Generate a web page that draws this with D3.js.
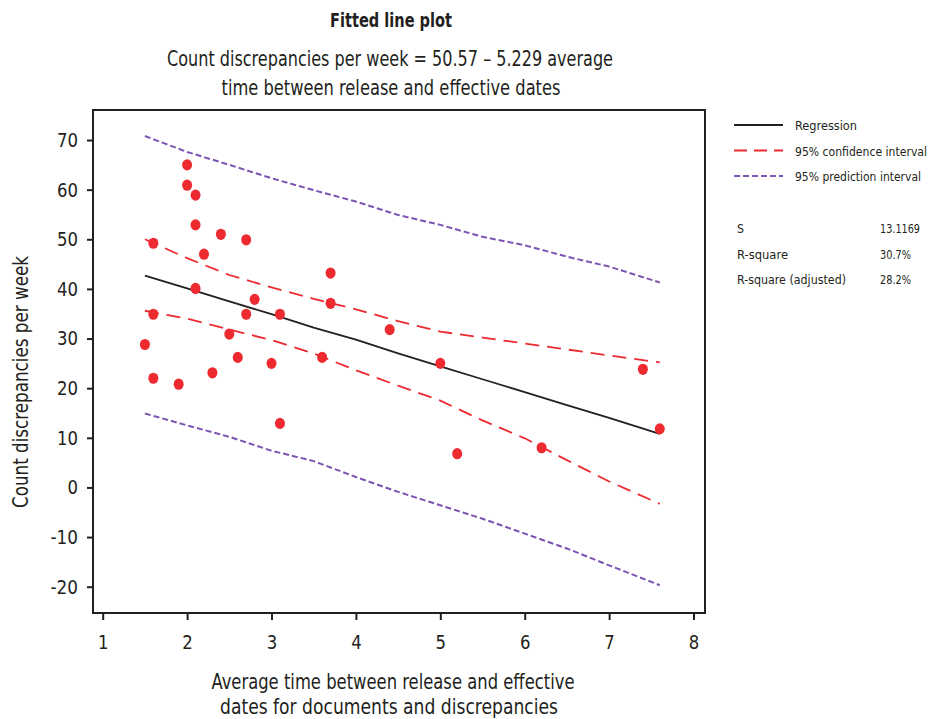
<!DOCTYPE html>
<html>
<head>
<meta charset="utf-8">
<title>Fitted line plot</title>
<style>
  body { margin: 0; background: #fff; }
  svg { display: block; }
  text { font-family: "DejaVu Sans Condensed", "Liberation Sans Narrow", sans-serif; fill: #231f20; }
  .axis path, .axis line { stroke: #231f20; stroke-width: 2px; }
  .axis text { font-size: 20px; }
</style>
</head>
<body>
<svg></svg>
<script src="https://d3js.org/d3.v7.min.js"></script>
<script>
// observations (average time, count discrepancies)
const obsX = [2.0, 2.0, 2.1, 2.1, 2.4, 2.7, 1.6, 2.2, 3.7, 2.1, 2.8, 3.7, 1.6, 2.7, 3.1,
              4.4, 2.5, 1.5, 1.6, 1.9, 2.3, 2.6, 3.0, 3.6, 3.1, 5.0, 7.4, 7.6, 5.2, 6.2];
const obsY = [65.0, 60.9, 58.9, 52.9, 51.0, 49.9, 49.2, 47.0, 43.2, 40.1, 37.9, 37.1, 34.9, 34.9, 34.9,
              31.8, 30.9, 28.8, 22.0, 20.8, 23.1, 26.2, 25.0, 26.2, 12.9, 25.0, 23.8, 11.8, 6.8, 8.0];

// fitted curves
const fitX    = [1.5, 2, 2.5, 3, 3.5, 4, 4.5, 5, 5.5, 6, 6.5, 7, 7.6];
const regY    = [42.7, 40.1, 37.5, 34.9, 32.2, 29.8, 27.0, 24.4, 21.8, 19.2, 16.6, 14.0, 10.8];
const ciUpper = [50.0, 46.2, 42.8, 40.3, 38.0, 35.9, 33.5, 31.4, 30.2, 29.0, 27.8, 26.6, 25.2];
const ciLower = [35.6, 34.0, 31.8, 29.7, 27.0, 23.6, 20.5, 17.5, 13.5, 9.9, 5.5, 1.2, -3.3];
const piUpper = [70.8, 67.6, 65.0, 62.3, 59.9, 57.6, 54.9, 52.9, 50.5, 48.8, 46.5, 44.5, 41.3];
const piLower = [14.9, 12.5, 10.2, 7.4, 5.3, 2.1, -0.9, -3.6, -6.3, -9.3, -12.3, -15.7, -19.7];

const xTicks = [1, 2, 3, 4, 5, 6, 7, 8];
const yTicks = [70, 60, 50, 40, 30, 20, 10, 0, -10, -20];

const legendItems = ["Regression", "95% confidence interval", "95% prediction interval"];
const statNames = ["S", "R-square", "R-square (adjusted)"];
const statValues = ["13.1169", "30.7%", "28.2%"];

const W = 938, H = 719;
const svg = d3.select("svg").attr("width", W).attr("height", H);

const plotL = 93, plotR = 705, plotT = 110, plotB = 613;
const x = d3.scaleLinear().domain([0.885, 8.136]).range([plotL, plotR]);
const y = d3.scaleLinear().domain([-25.3, 76.05]).range([plotB, plotT]);

// squeeze a text to the condensed width of the original
function fit(sel, len) {
  sel.attr("textLength", len).attr("lengthAdjust", "spacingAndGlyphs");
}
const labelLen = s => s.replace(/-/g, "").length * 10.5 + (s.includes("-") ? 6.5 : 0);

// frame
svg.append("rect")
  .attr("x", plotL).attr("y", plotT)
  .attr("width", plotR - plotL).attr("height", plotB - plotT)
  .attr("fill", "none").attr("stroke", "#231f20").attr("stroke-width", 2);

const xAxis = svg.append("g").attr("class", "axis")
  .attr("transform", `translate(0,${plotB})`)
  .call(d3.axisBottom(x).tickValues(xTicks).tickSize(7).tickPadding(15).tickFormat(d => String(d)));
xAxis.select(".domain").remove();
xAxis.selectAll("text").each(function(d) { fit(d3.select(this), labelLen(String(d))); });

const yAxis = svg.append("g").attr("class", "axis")
  .attr("transform", `translate(${plotL},0)`)
  .call(d3.axisLeft(y).tickValues(yTicks).tickSize(6).tickPadding(9).tickFormat(d => String(d)));
yAxis.select(".domain").remove();
yAxis.selectAll("text").each(function(d) { fit(d3.select(this), labelLen(String(d))); });

const line = d3.line().x((d, i) => x(fitX[i])).y(d => y(d));

const curves = [
  { vals: piUpper, color: "#7c55b3", dash: "6,3", w: 2 },
  { vals: piLower, color: "#7c55b3", dash: "6,3", w: 2 },
  { vals: ciUpper, color: "#ec2a30", dash: "14,8", w: 1.8 },
  { vals: ciLower, color: "#ec2a30", dash: "14,8", w: 1.8 },
  { vals: regY, color: "#231f20", dash: null, w: 1.8 }
];
curves.forEach(c => {
  svg.append("path")
    .attr("d", line(c.vals))
    .attr("fill", "none")
    .attr("stroke", c.color)
    .attr("stroke-width", c.w)
    .attr("stroke-dasharray", c.dash);
});

svg.append("g").selectAll("ellipse")
  .data(obsX)
  .join("ellipse")
  .attr("cx", (d, i) => x(d))
  .attr("cy", (d, i) => y(obsY[i]))
  .attr("rx", 5).attr("ry", 5.6)
  .attr("fill", "#ec2a30");

// titles
function label(tx, ty, str, size, len, bold) {
  const t = svg.append("text").attr("x", tx).attr("y", ty).attr("text-anchor", "middle")
    .style("font-size", size + "px").style("font-weight", bold ? "bold" : null).text(str);
  fit(t, len);
  return t;
}
label(391, 27, "Fitted line plot", 20, 122, true);
label(390, 66, "Count discrepancies per week =  50.57 \u2013 5.229 average", 21, 446);
label(391, 95, "time between release and effective dates", 21, 339);

// axis titles
label(393, 689, "Average time between release and effective", 21, 363);
label(389, 714, "dates for documents and discrepancies", 21, 338);
fit(svg.append("text")
  .attr("transform", "translate(28,382) rotate(-90)")
  .attr("text-anchor", "middle")
  .style("font-size", "21px").text("Count discrepancies per week"), 252);

// legend
const legend = svg.append("g");
const legStyles = [
  { color: "#231f20", dash: null, len: 62 },
  { color: "#ec2a30", dash: "13,7", len: 132 },
  { color: "#7c55b3", dash: "6,3", len: 126 }
];
legendItems.forEach((t, i) => {
  const ly = 125 + i * 25.5;
  legend.append("line")
    .attr("x1", 734).attr("x2", 783).attr("y1", ly).attr("y2", ly)
    .attr("stroke", legStyles[i].color).attr("stroke-width", 1.8)
    .attr("stroke-dasharray", legStyles[i].dash);
  fit(legend.append("text").attr("x", 795).attr("y", ly + 5)
    .style("font-size", "13px").text(t), legStyles[i].len);
});
const statLens = [7, 51, 109];
const valLens = [40, 31, 31];
statNames.forEach((t, i) => {
  const ly = 233 + i * 25.5;
  fit(legend.append("text").attr("x", 737).attr("y", ly).style("font-size", "13px").text(t), statLens[i]);
  fit(legend.append("text").attr("x", 880).attr("y", ly).style("font-size", "13px").text(statValues[i]), valLens[i]);
});
</script>
</body>
</html>
